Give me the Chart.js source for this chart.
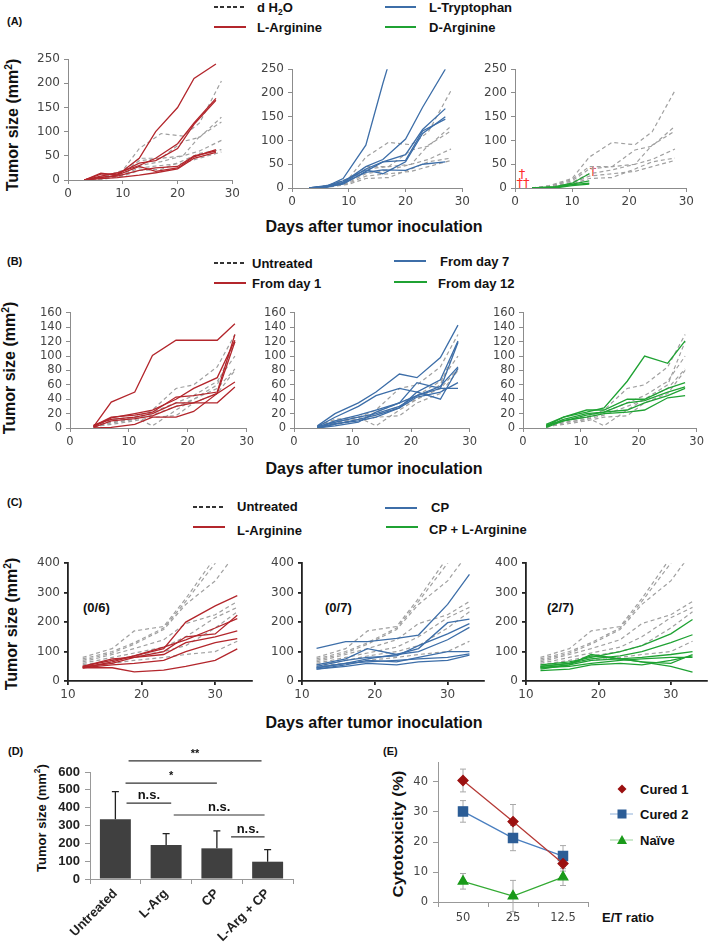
<!DOCTYPE html>
<html>
<head>
<meta charset="utf-8">
<script src="https://cdn.jsdelivr.net/npm/chart.js@4.4.1/dist/chart.umd.min.js"></script>
<style>
  body { margin: 0; background: #fff; }
  #fig { position: relative; width: 709px; height: 944px; overflow: hidden; font-family: "Liberation Sans", Arial, sans-serif; color: #111; }
  #fig canvas { position: absolute; }
  .t { position: absolute; white-space: nowrap; transform: translateY(-50%); font-weight: bold; }
  .panel { font-size: 11px; }
  .leg { font-size: 13px; }
  .ln { position: absolute; height: 2px; }
  .dash { background: repeating-linear-gradient(90deg, #333 0 4px, transparent 4px 6.5px); }
  .ytitle { position: absolute; white-space: nowrap; font-weight: bold; font-size: 16px; transform: translate(-50%, -50%) rotate(-90deg); }
  .xtitle { position: absolute; white-space: nowrap; font-weight: bold; font-size: 16px; transform: translate(-50%, -50%); }
  .dag { position: absolute; color: #ff2a2a; font-size: 13px; font-family: "DejaVu Sans"; transform: translate(-50%, -50%); }
  sup { font-size: 65%; line-height: 0; }
  sub { font-size: 65%; line-height: 0; }
</style>
</head>
<body>
<div id="fig">
  <!-- (A) -->
  <div class="t panel" style="left:7px;top:21px">(A)</div>
  <div class="ln dash" style="left:214px;top:6px;width:32px"></div>
  <div class="t leg" style="left:257px;top:7px">d H<sub>2</sub>O</div>
  <div class="ln" style="left:214px;top:26px;width:32px;background:#b3262c"></div>
  <div class="t leg" style="left:257px;top:27px">L-Arginine</div>
  <div class="ln" style="left:385px;top:6px;width:31px;background:#3d6ea8"></div>
  <div class="t leg" style="left:429px;top:7px">L-Tryptophan</div>
  <div class="ln" style="left:385px;top:26px;width:31px;background:#1fa233"></div>
  <div class="t leg" style="left:429px;top:27px">D-Arginine</div>
  <div class="ytitle" style="left:13px;top:125px">Tumor size (mm<sup>2</sup>)</div>
  <div class="xtitle" style="left:374px;top:227px">Days after tumor inoculation</div>
  <div class="dag" style="left:522px;top:173px">†</div>
  <div class="dag" style="left:523px;top:182px">††</div>
  <div class="dag" style="left:593px;top:170px">†</div>

  <!-- (B) -->
  <div class="t panel" style="left:7px;top:261px">(B)</div>
  <div class="ln dash" style="left:214px;top:262px;width:32px"></div>
  <div class="t leg" style="left:252px;top:263px">Untreated</div>
  <div class="ln" style="left:214px;top:282px;width:32px;background:#b3262c"></div>
  <div class="t leg" style="left:252px;top:283px">From day 1</div>
  <div class="ln" style="left:394px;top:260px;width:32px;background:#3d6ea8"></div>
  <div class="t leg" style="left:440px;top:261px">From day 7</div>
  <div class="ln" style="left:394px;top:281px;width:33px;background:#1fa233"></div>
  <div class="t leg" style="left:438px;top:283px">From day 12</div>
  <div class="ytitle" style="left:10px;top:368px">Tumor size (mm<sup>2</sup>)</div>
  <div class="xtitle" style="left:374px;top:469px">Days after tumor inoculation</div>

  <!-- (C) -->
  <div class="t panel" style="left:7px;top:502px">(C)</div>
  <div class="ln dash" style="left:193px;top:506px;width:32px"></div>
  <div class="t leg" style="left:237px;top:506px">Untreated</div>
  <div class="ln" style="left:193px;top:526px;width:32px;background:#b3262c"></div>
  <div class="t leg" style="left:237px;top:530px">L-Arginine</div>
  <div class="ln" style="left:385px;top:507px;width:32px;background:#3d6ea8"></div>
  <div class="t leg" style="left:431px;top:507px">CP</div>
  <div class="ln" style="left:386px;top:526px;width:32px;background:#1fa233"></div>
  <div class="t leg" style="left:429px;top:529px">CP + L-Arginine</div>
  <div class="t leg" style="left:83px;top:607px">(0/6)</div>
  <div class="t leg" style="left:325px;top:607px">(0/7)</div>
  <div class="t leg" style="left:547px;top:607px">(2/7)</div>
  <div class="ytitle" style="left:12px;top:624px">Tumor size (mm<sup>2</sup>)</div>
  <div class="xtitle" style="left:374px;top:723px">Days after tumor inoculation</div>

  <!-- (D) -->
  <div class="t panel" style="left:8px;top:751px">(D)</div>
  <div class="ytitle" style="left:41px;top:818px;font-size:13px">Tumor size (mm<sup>2</sup>)</div>

  <!-- (E) -->
  <div class="t panel" style="left:383px;top:751px">(E)</div>
  <div class="ytitle" style="left:398px;top:834px;font-size:14px;transform:translate(-50%,-50%) rotate(-90deg) scaleX(1.2)">Cytotoxicity (%)</div>
  <div class="t leg" style="left:602px;top:917px">E/T ratio</div>
  <div class="t leg" style="left:640px;top:789px">Cured 1</div>
  <div class="t leg" style="left:640px;top:814px">Cured 2</div>
  <div class="t leg" style="left:640px;top:840px">Naïve</div>
</div>

<script>
// ---------- (A) amino acid treatment ----------
const daysA = [3, 6, 9, 13, 16, 20, 23, 27];
const daysWaterA = [3, 6, 10, 13, 17, 21, 24, 28];
const waterA = [
  [0, 5, 20, 65, 96, 91, 118, 205],
  [0, 4, 15, 40, 45, 80, 88, 130],
  [0, 3, 18, 45, 45, 50, 90, 120],
  [0, 2, 12, 30, 38, 50, 60, 82],
  [0, 1, 8, 20, 22, 40, 55, 63],
  [0, 2, 10, 25, 30, 35, 45, 58]
];
const lArginineA = [
  [0, 5, 10, 45, 100, 150, 210, 240],
  [0, 8, 15, 30, 45, 75, 118, 169],
  [0, 12, 12, 35, 40, 65, 115, 165],
  [0, 14, 10, 28, 18, 25, 48, 63],
  [0, 3, 5, 10, 15, 23, 45, 57],
  [0, 6, 8, 20, 25, 28, 50, 60]
];
const lTryptophanA = [
  [0, 3, 20, 90, 220, 380],
  [0, 3, 12, 45, 60, 103, 170, 250],
  [0, 5, 10, 40, 55, 70, 123, 167],
  [0, 2, 8, 35, 55, 58, 120, 145],
  [0, 4, 15, 38, 30, 55, 115, 150],
  [0, 1, 10, 33, 38, 37, 50, 55]
];
const daysDArgA = [3, 7, 10, 13];
const dArginineA = [
  [0, 3, 10, 30],
  [0, 2, 8, 15],
  [0, 1, 7, 10],
  [0, 0, 5, 8]
];
const xTicksA = [0, 10, 20, 30];
const yTicksA = [0, 50, 100, 150, 200, 250];

// ---------- (B) L-Arginine start day ----------
const daysB = [4, 7, 11, 14, 18, 21, 25, 28];
const untreatedB = [
  [2, 10, 15, 25, 55, 60, 85, 130],
  [1, 8, 12, 22, 35, 45, 65, 100],
  [3, 12, 15, 3, 25, 40, 55, 82],
  [2, 5, 10, 15, 17, 35, 48, 80],
  [1, 7, 12, 18, 30, 40, 60, 120]
];
const fromDay1B = [
  [2, 36, 50, 101, 122, 122, 122, 145],
  [3, 15, 18, 22, 43, 45, 50, 130],
  [2, 14, 20, 25, 40, 55, 70, 122],
  [4, 12, 15, 20, 35, 35, 48, 64],
  [1, 10, 13, 17, 30, 35, 35, 57],
  [0, 1, 5, 15, 15, 23, 48, 120]
];
const fromDay7B = [
  [3, 20, 35, 50, 75, 70, 98, 143],
  [2, 15, 30, 45, 55, 50, 67, 121],
  [1, 10, 18, 25, 35, 63, 55, 119],
  [2, 8, 15, 20, 30, 45, 58, 85],
  [0, 5, 12, 18, 28, 50, 40, 83],
  [1, 6, 10, 15, 28, 43, 50, 63],
  [0, 3, 8, 22, 35, 45, 55, 55]
];
const fromDay12B = [
  [3, 15, 22, 28, 65, 100, 90, 121],
  [5, 15, 25, 25, 40, 40, 55, 63],
  [2, 12, 20, 22, 35, 38, 50, 57],
  [1, 10, 18, 22, 25, 35, 45, 55],
  [4, 10, 15, 20, 22, 25, 42, 45]
];
const xTicksB = [0, 10, 20, 30];
const yTicksB = [0, 20, 40, 60, 80, 100, 120, 140, 160];

// ---------- (C) CP combination ----------
const daysC = [12, 16, 19, 23, 26, 30, 33];
const untreatedC = [
  [80, 110, 170, 185, 280, 420, 520],
  [75, 100, 130, 180, 270, 400, 500],
  [70, 95, 125, 175, 260, 340, 440],
  [65, 90, 110, 140, 195, 225, 270],
  [60, 80, 95, 115, 150, 215, 250],
  [55, 70, 85, 100, 120, 180, 235],
  [50, 60, 70, 80, 90, 100, 135]
];
const lArginineC = [
  [50, 70, 85, 110, 200, 255, 290],
  [48, 60, 80, 100, 150, 160, 223],
  [45, 65, 85, 115, 140, 180, 212],
  [50, 75, 80, 90, 130, 150, 170],
  [45, 55, 60, 70, 100, 130, 144],
  [45, 45, 31, 37, 50, 70, 109]
];
const cpC = [
  [111, 134, 134, 145, 156, 260, 362],
  [55, 75, 110, 90, 110, 198, 210],
  [50, 70, 80, 85, 120, 160, 195],
  [45, 60, 75, 90, 100, 140, 182],
  [40, 55, 70, 65, 80, 100, 100],
  [45, 60, 65, 70, 75, 80, 92],
  [40, 50, 60, 55, 65, 70, 88]
];
const cpLArginineC = [
  [55, 65, 80, 100, 120, 160, 209],
  [50, 60, 75, 85, 100, 130, 157],
  [45, 55, 70, 75, 80, 90, 100],
  [50, 60, 85, 75, 65, 60, 90],
  [40, 55, 90, 75, 65, 50, 30],
  [45, 50, 60, 70, 75, 80, 80],
  [35, 40, 55, 60, 55, 70, 85]
];
const xTicksC = [10, 20, 30];
const yTicksC = [0, 100, 200, 300, 400];

// ---------- (D) tumour size ----------
const groupsD = ['Untreated', 'L-Arg', 'CP', 'L-Arg + CP'];
const meanD = [335, 190, 172, 97];
const sdD = [155, 65, 98, 68];
const yTicksD = [0, 100, 200, 300, 400, 500, 600];

// ---------- (E) cytotoxicity ----------
const ratiosE = ['50', '25', '12.5'];
const cured1E = [40.5, 26.8, 12.8];
const cured1ErrE = [3.8, 5.7, 2.5];
const cured2E = [30.2, 21.3, 15.3];
const cured2ErrE = [3.6, 4.2, 3.5];
const naiveE = [6.9, 2.0, 8.3];
const naiveErrE = [2.6, 5.2, 2.8];
const yTicksE = [0, 10, 20, 30, 40];

const RED = '#b3262c', BLUE = '#3d6ea8', GREEN = '#1fa233', GRAY = '#a0a0a0';

function makeCanvas(left, top, w, h) {
  const c = document.createElement('canvas');
  c.width = w; c.height = h;
  c.style.left = left + 'px'; c.style.top = top + 'px';
  c.style.width = w + 'px'; c.style.height = h + 'px';
  document.getElementById('fig').appendChild(c);
  return c;
}

function fixedTicks(values) {
  return scale => { scale.ticks = values.map(v => ({ value: v })); };
}

function seriesSets(days, list, color, dashed) {
  return list.map(vals => ({
    data: vals.map((v, i) => ({ x: days[i], y: v })),
    borderColor: color,
    borderWidth: dashed ? 1.2 : 1.3,
    borderDash: dashed ? [4, 3] : [],
    pointRadius: 0,
    tension: 0
  }));
}

// area = plot box in page pixels
function growthChart(area, xMin, xMax, xTicks, yMax, yTicks, groups, look) {
  const padL = 42, padT = 9, padB = 26, padR = area.padR ?? 10;
  const w = area.r - area.l + padL + padR;
  const h = area.b - area.t + padT + padB;
  const c = makeCanvas(area.l - padL, area.t - padT, w, h);
  const datasets = [];
  groups.forEach(g => datasets.push(...seriesSets(g[0], g[1], g[2], g[3])));
  const tickFont = { family: 'DejaVu Sans', size: look.fontSize };
  const grid = { drawOnChartArea: false, tickLength: 4, color: look.axis, lineWidth: look.width };
  const border = { color: look.axis, width: look.width };
  new Chart(c, {
    type: 'line',
    data: { datasets },
    options: {
      responsive: false,
      animation: false,
      events: [],
      layout: { padding: { top: padT, right: padR, left: 0, bottom: 0 } },
      plugins: { legend: { display: false }, tooltip: { enabled: false } },
      scales: {
        x: {
          type: 'linear', min: xMin, max: xMax,
          afterFit: s => { s.height = padB; },
          afterBuildTicks: fixedTicks(xTicks),
          ticks: { font: tickFont, color: '#444', padding: 3, maxRotation: 0, autoSkip: false },
          grid, border
        },
        y: {
          min: 0, max: yMax,
          afterFit: s => { s.width = padL; },
          afterBuildTicks: fixedTicks(yTicks),
          ticks: { font: tickFont, color: '#444', padding: 4, autoSkip: false },
          grid, border
        }
      }
    }
  });
}

const lookAB = { axis: '#8c8c8c', width: 1, fontSize: 12 };
const lookC = { axis: '#222', width: 1.8, fontSize: 12 };

// (A)
growthChart({ l: 68, r: 233, t: 57, b: 180 }, 0, 30, xTicksA, 250, yTicksA,
  [[daysA, lArginineA, RED, false], [daysWaterA, waterA, GRAY, true]], lookAB);
growthChart({ l: 292, r: 463, t: 67, b: 188 }, 0, 30, xTicksA, 250, yTicksA,
  [[daysA, lTryptophanA, BLUE, false], [daysWaterA, waterA, GRAY, true]], lookAB);
growthChart({ l: 515, r: 687, t: 67, b: 188 }, 0, 30, xTicksA, 250, yTicksA,
  [[daysDArgA, dArginineA, GREEN, false], [daysWaterA, waterA, GRAY, true]], lookAB);

// (B)
const lookB = { axis: '#8c8c8c', width: 1, fontSize: 11.5 };
growthChart({ l: 70, r: 247, t: 311, b: 428 }, 0, 30, xTicksB, 160, yTicksB,
  [[daysB, fromDay1B, RED, false], [daysB, untreatedB, GRAY, true]], lookB);
growthChart({ l: 294, r: 470, t: 311, b: 428 }, 0, 30, xTicksB, 160, yTicksB,
  [[daysB, fromDay7B, BLUE, false], [daysB, untreatedB, GRAY, true]], lookB);
growthChart({ l: 523, r: 697, t: 311, b: 428 }, 0, 30, xTicksB, 160, yTicksB,
  [[daysB, fromDay12B, GREEN, false], [daysB, untreatedB, GRAY, true]], lookB);

// (C)
growthChart({ l: 68, r: 252, t: 561, b: 681 }, 10, 35, xTicksC, 400, yTicksC,
  [[daysC, lArginineC, RED, false], [daysC, untreatedC, GRAY, true]], lookC);
growthChart({ l: 302, r: 484, t: 561, b: 681 }, 10, 35, xTicksC, 400, yTicksC,
  [[daysC, cpC, BLUE, false], [daysC, untreatedC, GRAY, true]], lookC);
growthChart({ l: 526, r: 707, t: 561, b: 681, padR: 2 }, 10, 35, xTicksC, 400, yTicksC,
  [[daysC, cpLArginineC, GREEN, false], [daysC, untreatedC, GRAY, true]], lookC);

// (D) bar chart with upper error bars and significance brackets
(function () {
  const area = { l: 90, r: 293, t: 772, b: 879 };
  const padL = 55, padT = 28, padR = 12, padB = 65;
  const c = makeCanvas(area.l - padL, area.t - padT,
    area.r - area.l + padL + padR, area.b - area.t + padT + padB);
  const brackets = [
    [0.26, 2.88, 662, '**'],
    [0.2, 2.0, 538, '*'],
    [0.22, 1.1, 426, 'n.s.'],
    [1.15, 2.94, 359, 'n.s.'],
    [2.28, 2.94, 236, 'n.s.']
  ];
  const errPlugin = {
    id: 'errD',
    afterDatasetsDraw(chart) {
      const ctx = chart.ctx, y = chart.scales.y;
      const meta = chart.getDatasetMeta(0);
      ctx.save();
      ctx.strokeStyle = '#222'; ctx.lineWidth = 1.3;
      meta.data.forEach((bar, i) => {
        const top = y.getPixelForValue(meanD[i] + sdD[i]);
        ctx.beginPath();
        ctx.moveTo(bar.x, bar.y); ctx.lineTo(bar.x, top);
        ctx.moveTo(bar.x - 3.5, top); ctx.lineTo(bar.x + 3.5, top);
        ctx.stroke();
      });
      ctx.restore();
    },
    afterDraw(chart) {
      const ctx = chart.ctx, x = chart.scales.x, y = chart.scales.y;
      ctx.save();
      ctx.strokeStyle = '#333'; ctx.fillStyle = '#111'; ctx.lineWidth = 1.2;
      ctx.textAlign = 'center'; ctx.textBaseline = 'alphabetic';
      brackets.forEach(([a, b, v, txt]) => {
        const x1 = x.getPixelForValue(a), x2 = x.getPixelForValue(b), py = y.getPixelForValue(v);
        ctx.beginPath(); ctx.moveTo(x1, py); ctx.lineTo(x2, py); ctx.stroke();
        ctx.font = txt === 'n.s.' ? 'bold 13px "Liberation Sans"' : 'bold 11px "Liberation Sans"';
        ctx.fillText(txt, (x1 + x2) / 2, py - 4);
      });
      ctx.restore();
    }
  };
  const font = { family: 'Liberation Sans', size: 13, weight: 'bold' };
  new Chart(c, {
    type: 'bar',
    data: {
      labels: groupsD,
      datasets: [{ data: meanD, backgroundColor: '#404040', barPercentage: 0.61, categoryPercentage: 1 }]
    },
    options: {
      responsive: false, animation: false, events: [],
      layout: { padding: { top: padT, right: padR, left: 0, bottom: 0 } },
      plugins: { legend: { display: false }, tooltip: { enabled: false } },
      scales: {
        x: {
          afterFit: s => { s.height = padB; },
          ticks: { font, color: '#222', minRotation: 45, maxRotation: 45, padding: 2, autoSkip: false },
          grid: { drawOnChartArea: false, tickLength: 5, color: '#999', offset: true },
          border: { color: '#999' }
        },
        y: {
          min: 0, max: 600,
          afterFit: s => { s.width = padL; },
          afterBuildTicks: fixedTicks(yTicksD),
          ticks: { font, color: '#222', padding: 5, autoSkip: false },
          grid: { drawOnChartArea: false, tickLength: 5, color: '#999' },
          border: { color: '#999' }
        }
      }
    },
    plugins: [errPlugin]
  });
})();

// (E) cytotoxicity line chart with error bars
(function () {
  const area = { l: 438, r: 588, t: 762, b: 902 };
  const padL = 40, padT = 12, padR = 121, padB = 42;
  const c = makeCanvas(area.l - padL, area.t - padT,
    area.r - area.l + padL + padR, area.b - area.t + padT + padB);
  const errs = [cured1ErrE, cured2ErrE, naiveErrE];
  const values = [cured1E, cured2E, naiveE];
  const errPlugin = {
    id: 'errE',
    beforeDatasetsDraw(chart) {
      const ctx = chart.ctx, y = chart.scales.y;
      ctx.save();
      ctx.strokeStyle = '#a8a8a8'; ctx.lineWidth = 1;
      errs.forEach((e, d) => {
        chart.getDatasetMeta(d).data.forEach((pt, i) => {
          const hi = y.getPixelForValue(values[d][i] + e[i]);
          const lo = y.getPixelForValue(values[d][i] - e[i]);
          ctx.beginPath();
          ctx.moveTo(pt.x, hi); ctx.lineTo(pt.x, lo);
          ctx.moveTo(pt.x - 3, hi); ctx.lineTo(pt.x + 3, hi);
          ctx.moveTo(pt.x - 3, lo); ctx.lineTo(pt.x + 3, lo);
          ctx.stroke();
        });
      });
      ctx.restore();
    },
    afterDraw(chart) {
      // legend markers
      const ctx = chart.ctx, a = chart.chartArea;
      const cx = a.right + 34;
      const rows = [a.top + 27, a.top + 52, a.top + 78];
      ctx.save();
      ctx.lineWidth = 1;
      ctx.strokeStyle = '#8fb0d8';
      ctx.beginPath(); ctx.moveTo(cx - 12, rows[1]); ctx.lineTo(cx + 11, rows[1]); ctx.stroke();
      ctx.strokeStyle = '#9ad39a';
      ctx.beginPath(); ctx.moveTo(cx - 12, rows[2]); ctx.lineTo(cx + 11, rows[2]); ctx.stroke();
      ctx.fillStyle = '#9b1010';
      ctx.beginPath();
      ctx.moveTo(cx - 4.5, rows[0]); ctx.lineTo(cx, rows[0] - 4.5);
      ctx.lineTo(cx + 4.5, rows[0]); ctx.lineTo(cx, rows[0] + 4.5); ctx.closePath(); ctx.fill();
      ctx.fillStyle = '#2c5d96';
      ctx.fillRect(cx - 4.5, rows[1] - 4.5, 9, 9);
      ctx.fillStyle = '#1a9a1a';
      ctx.beginPath();
      ctx.moveTo(cx, rows[2] - 5); ctx.lineTo(cx + 5, rows[2] + 4); ctx.lineTo(cx - 5, rows[2] + 4);
      ctx.closePath(); ctx.fill();
      ctx.restore();
    }
  };
  const tickFont = { family: 'DejaVu Sans', size: 11.5 };
  new Chart(c, {
    type: 'line',
    data: {
      labels: ratiosE,
      datasets: [
        { data: cured1E, borderColor: '#b53a36', borderWidth: 1.3, pointStyle: 'rectRot', pointRadius: 5,
          pointBackgroundColor: '#9b1010', pointBorderColor: '#9b1010', tension: 0 },
        { data: cured2E, borderColor: '#4a7fc0', borderWidth: 1.3, pointStyle: 'rect', pointRadius: 6.5,
          pointBackgroundColor: '#2c5d96', pointBorderColor: '#2c5d96', tension: 0 },
        { data: naiveE, borderColor: '#33aa33', borderWidth: 1.3, pointStyle: 'triangle', pointRadius: 5.5,
          pointBackgroundColor: '#1a9a1a', pointBorderColor: '#1a9a1a', tension: 0 }
      ]
    },
    options: {
      responsive: false, animation: false, events: [],
      layout: { padding: { top: padT, right: padR, left: 0, bottom: 0 } },
      plugins: { legend: { display: false }, tooltip: { enabled: false } },
      scales: {
        x: {
          offset: true,
          afterFit: s => { s.height = padB; },
          ticks: { font: tickFont, color: '#444', padding: 4, maxRotation: 0, autoSkip: false },
          grid: { drawOnChartArea: false, tickLength: 5, color: '#999', offset: true },
          border: { color: '#999' }
        },
        y: {
          min: 0, max: 140 / 3,
          afterFit: s => { s.width = padL; },
          afterBuildTicks: fixedTicks(yTicksE),
          ticks: { font: tickFont, color: '#444', padding: 5, autoSkip: false },
          grid: { drawOnChartArea: false, tickLength: 5, color: '#999' },
          border: { color: '#999' }
        }
      }
    },
    plugins: [errPlugin]
  });
})();
</script>
</body>
</html>
